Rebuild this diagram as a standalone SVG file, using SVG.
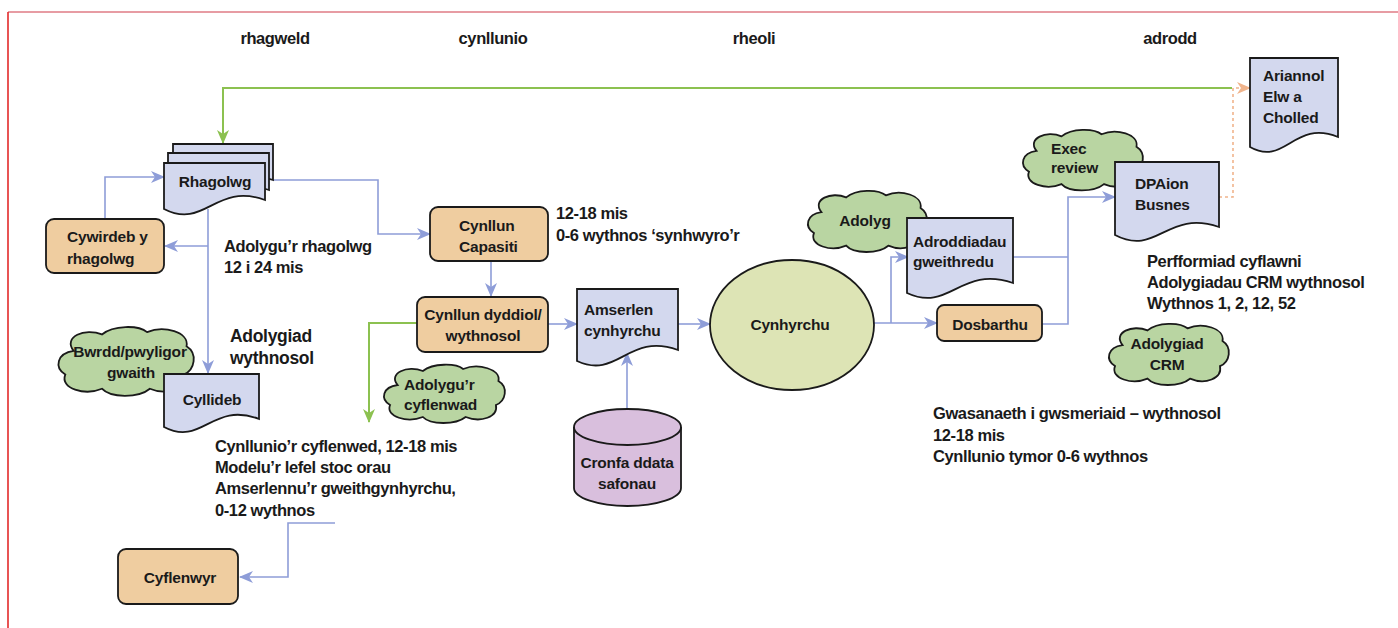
<svg xmlns="http://www.w3.org/2000/svg" width="1398" height="628" viewBox="0 0 1398 628">
<style>
text { font-family: "Liberation Sans", Arial, sans-serif; font-weight: bold; fill: #1a1a1a; }
.hd { font-size: 16.5px; letter-spacing: -0.4px; text-anchor: middle; }
.an { font-size: 16.5px; letter-spacing: -0.4px; }
.big { font-size: 17.5px; letter-spacing: -0.3px; }
.nd { font-size: 15.5px; letter-spacing: -0.2px; }
.mid { text-anchor: middle; }
.box { fill: #efcda0; stroke: #1a1a1a; stroke-width: 1.8; }
.doc { fill: #d3d8ee; stroke: #1a1a1a; stroke-width: 1.8; }
.cloud { fill: #b9d5a2; stroke: #1a1a1a; stroke-width: 1.8; }
.blue { fill: none; stroke: #8e9dd8; stroke-width: 1.6; }
.green { fill: none; stroke: #8cc150; stroke-width: 2; }
.orange { fill: none; stroke: #f0b48c; stroke-width: 1.6; stroke-dasharray: 3 3; }
</style>
<defs>
<marker id="ab" viewBox="0 0 14 12" refX="13" refY="6" markerWidth="14" markerHeight="12" markerUnits="userSpaceOnUse" orient="auto"><path d="M0,0 L14,6 L0,12 L4,6 Z" fill="#8e9dd8"/></marker>
<marker id="ag" viewBox="0 0 14 12" refX="13" refY="6" markerWidth="14" markerHeight="12" markerUnits="userSpaceOnUse" orient="auto"><path d="M0,0 L14,6 L0,12 L4,6 Z" fill="#8cc150"/></marker>
<marker id="ao" viewBox="0 0 14 12" refX="13" refY="6" markerWidth="14" markerHeight="12" markerUnits="userSpaceOnUse" orient="auto"><path d="M0,0 L14,6 L0,12 L4,6 Z" fill="#f0b48c"/></marker>
<path id="cl" d="M14,22 C6,10 22,2 34,8 C42,0 60,0 66,6 C78,0 96,6 94,18 C102,24 100,38 92,42 C94,54 80,60 68,54 C60,62 40,62 34,54 C22,60 4,54 8,42 C0,36 2,24 14,22 Z" vector-effect="non-scaling-stroke"/>
</defs>
<rect width="1398" height="628" fill="#ffffff"/>
<line x1="8" y1="12" x2="1398" y2="12" stroke="#df7b85" stroke-width="1.6"/>
<line x1="8" y1="12" x2="8" y2="628" stroke="#e32a2a" stroke-width="1.6"/>

<g id="headers">
<text class="hd" x="275" y="44">rhagweld</text>
<text class="hd" x="493" y="44">cynllunio</text>
<text class="hd" x="754" y="44">rheoli</text>
<text class="hd" x="1170" y="44">adrodd</text>
</g>

<g id="connectors">
<path class="green" d="M1232,88 H223 V143" marker-end="url(#ag)"/>
<path class="green" d="M418,323 H369 V422" marker-end="url(#ag)"/>
<path class="orange" d="M1219,197 H1233 V88 H1250" marker-end="url(#ao)"/>
<path class="blue" d="M105,219 V177 H164" marker-end="url(#ab)"/>
<path class="blue" d="M273,180 H378 V234 H430" marker-end="url(#ab)"/>
<path class="blue" d="M208,209 V373" marker-end="url(#ab)"/>
<path class="blue" d="M208,246 H165" marker-end="url(#ab)"/>
<path class="blue" d="M491,261 V296" marker-end="url(#ab)"/>
<path class="blue" d="M548,324 H577" marker-end="url(#ab)"/>
<path class="blue" d="M627,409 V353" marker-end="url(#ab)"/>
<path class="blue" d="M678,324 H710" marker-end="url(#ab)"/>
<path class="blue" d="M874,323 H937" marker-end="url(#ab)"/>
<path class="blue" d="M891,323 V257 H908" marker-end="url(#ab)"/>
<path class="blue" d="M1012,257 H1068"/>
<path class="blue" d="M1042,324 H1068 V197 H1115" marker-end="url(#ab)"/>
<path class="blue" d="M335,523 H288 V577 H240" marker-end="url(#ab)"/>
</g>

<g id="rhagolwg">
<path class="doc" d="M173,144 H273 V180 c-50,-18 -60,30 -100,10 Z"/>
<path class="doc" d="M168,153 H269 V190 c-50,-18 -60,30 -101,10 Z"/>
<path class="doc" d="M164,163 H265 V200 c-50,-18 -60,30 -101,9 Z"/>
<text class="nd mid" x="215" y="187">Rhagolwg</text>
</g>

<g id="cywirdeb">
<rect class="box" x="46" y="219" width="118" height="54" rx="8"/>
<text class="nd" x="67" y="242">Cywirdeb y</text>
<text class="nd" x="67" y="264">rhagolwg</text>
</g>

<g id="bwrdd">
<use href="#cl" class="cloud" transform="translate(54,325) scale(1.41,1.18)"/>
<text class="nd mid" x="130" y="357">Bwrdd/pwyligor</text>
<text class="nd mid" x="131" y="378">gwaith</text>
</g>

<g id="cyllideb">
<path class="doc" d="M164,374 H259 V419 c-47,-18 -57,28 -95,8 Z"/>
<text class="nd mid" x="212" y="405">Cyllideb</text>
</g>

<g id="annotations">
<text class="an" x="224" y="252">Adolygu’r rhagolwg</text>
<text class="an" x="224" y="273">12 i 24 mis</text>
<text class="big" x="230" y="342">Adolygiad</text>
<text class="big" x="230" y="364">wythnosol</text>
<text class="an" x="556" y="219">12-18 mis</text>
<text class="an" x="556" y="241">0-6 wythnos ‘synhwyro’r</text>
<text class="an" x="215" y="452">Cynllunio’r cyflenwed, 12-18 mis</text>
<text class="an" x="215" y="473">Modelu’r lefel stoc orau</text>
<text class="an" x="215" y="494">Amserlennu’r gweithgynhyrchu,</text>
<text class="an" x="215" y="516">0-12 wythnos</text>
<text class="an" x="1147" y="267">Perfformiad cyflawni</text>
<text class="an" x="1147" y="288">Adolygiadau CRM wythnosol</text>
<text class="an" x="1147" y="309">Wythnos 1, 2, 12, 52</text>
<text class="an" x="933" y="419">Gwasanaeth i gwsmeriaid – wythnosol</text>
<text class="an" x="933" y="441">12-18 mis</text>
<text class="an" x="933" y="462">Cynllunio tymor 0-6 wythnos</text>
</g>

<g id="cyflenwyr">
<rect class="box" x="118" y="549" width="120" height="55" rx="8"/>
<text class="nd mid" x="180" y="583">Cyflenwyr</text>
</g>

<g id="capasiti">
<rect class="box" x="430" y="207" width="118" height="54" rx="8"/>
<text class="nd" x="459" y="231">Cynllun</text>
<text class="nd" x="459" y="252">Capasiti</text>
</g>

<g id="dyddiol">
<rect class="box" x="417" y="297" width="131" height="55" rx="8"/>
<text class="nd mid" x="483" y="320">Cynllun dyddiol/</text>
<text class="nd mid" x="483" y="341">wythnosol</text>
</g>

<g id="cyflenwad">
<use href="#cl" class="cloud" transform="translate(380,363) scale(1.26,1.0)"/>
<text class="nd" x="404" y="390">Adolygu’r</text>
<text class="nd" x="404" y="410">cyflenwad</text>
</g>

<g id="amserlen">
<path class="doc" d="M577,289 H678 V350 c-50,-18 -60,30 -101,11 Z"/>
<text class="nd" x="584" y="315">Amserlen</text>
<text class="nd" x="584" y="336">cynhyrchu</text>
</g>

<g id="cronfa">
<path d="M574,427 V488 A53.5,18 0 0 0 681,488 V427 A53.5,18 0 0 0 574,427 Z" fill="#d9bfdd" stroke="#1a1a1a" stroke-width="1.8"/>
<path d="M574,427 A53.5,18 0 0 0 681,427" fill="none" stroke="#1a1a1a" stroke-width="1.8"/>
<text class="nd mid" x="627" y="468">Cronfa ddata</text>
<text class="nd mid" x="627" y="489">safonau</text>
</g>

<g id="cynhyrchu">
<ellipse cx="792" cy="325" rx="82" ry="65" fill="#dde4b5" stroke="#1a1a1a" stroke-width="1.8"/>
<text class="nd mid" x="790" y="330">Cynhyrchu</text>
</g>

<g id="adolyg">
<use href="#cl" class="cloud" transform="translate(804,189) scale(1.24,1.05)"/>
<text class="nd mid" x="865" y="226">Adolyg</text>
</g>

<g id="adroddiadau">
<path class="doc" d="M907,218 H1013 V283 c-53,-18 -63,30 -106,10 Z"/>
<text class="nd" x="913" y="247">Adroddiadau</text>
<text class="nd" x="913" y="267">gweithredu</text>
</g>

<g id="dosbarthu">
<rect class="box" x="937" y="305" width="105" height="36" rx="7"/>
<text class="nd mid" x="990" y="330">Dosbarthu</text>
</g>

<g id="exec">
<use href="#cl" class="cloud" transform="translate(1019,128) scale(1.25,1.04)"/>
<text class="nd" x="1051" y="154">Exec</text>
<text class="nd" x="1051" y="173">review</text>
</g>

<g id="dpaion">
<path class="doc" d="M1115,162 H1219 V227 c-52,-18 -62,30 -104,8 Z"/>
<text class="nd" x="1135" y="189">DPAion</text>
<text class="nd" x="1135" y="210">Busnes</text>
</g>

<g id="ariannol">
<path class="doc" d="M1250,58 H1338 V137 c-44,-18 -53,30 -88,10 Z"/>
<text class="nd" x="1263" y="81">Ariannol</text>
<text class="nd" x="1263" y="102">Elw a</text>
<text class="nd" x="1263" y="123">Cholled</text>
</g>

<g id="crm">
<use href="#cl" class="cloud" transform="translate(1105,322) scale(1.25,1.05)"/>
<text class="nd mid" x="1167" y="349">Adolygiad</text>
<text class="nd mid" x="1167" y="370">CRM</text>
</g>
</svg>
